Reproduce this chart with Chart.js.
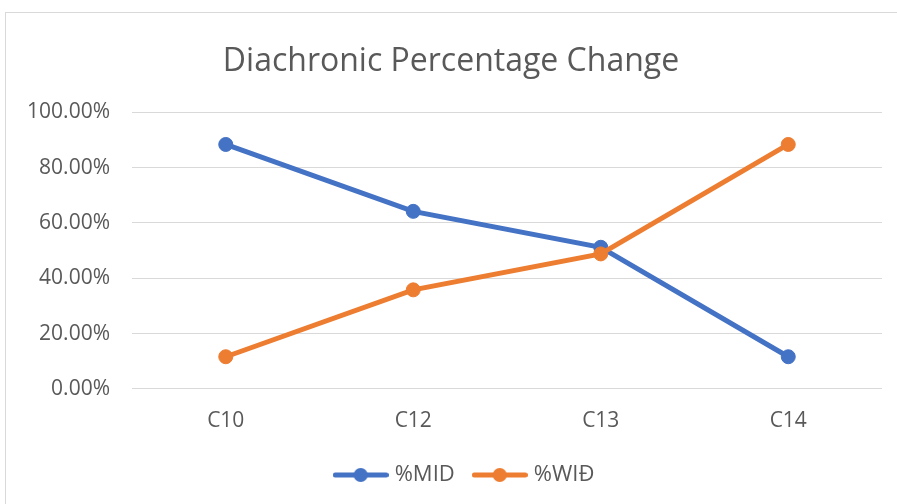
<!DOCTYPE html>
<html>
<head>
<meta charset="utf-8">
<script src="https://cdn.jsdelivr.net/npm/chart.js@4.4.1/dist/chart.umd.min.js"></script>
<style>
  html, body { margin: 0; padding: 0; background: #ffffff; }
  #wrap { position: relative; width: 897px; height: 504px; }
</style>
</head>
<body>
<div id="wrap"><canvas id="chart" width="897" height="504"></canvas></div>
<script>
// Series and labels
const categories = ['C10', 'C12', 'C13', 'C14'];
const midValues = [88.4, 64.2, 51.2, 11.6];
const widValues = [11.6, 35.8, 48.8, 88.4];
const seriesNames = ['%MID', '%WIĐ'];
const yTicks = [0, 20, 40, 60, 80, 100];

const FONT = '"Open Sans", sans-serif';
const TEXT = '#595959';
const BLUE = '#4472C4';
const ORANGE = '#ED7D31';

// Legend marker: short line with a dot in the middle
function legendMarker(color) {
  const c = document.createElement('canvas');
  c.width = 56; c.height = 16;
  const g = c.getContext('2d');
  g.strokeStyle = color;
  g.lineWidth = 5;
  g.lineCap = 'round';
  g.beginPath(); g.moveTo(2.5, 8); g.lineTo(53.5, 8); g.stroke();
  g.fillStyle = color;
  g.beginPath(); g.arc(28, 8, 7, 0, Math.PI * 2); g.fill();
  return c;
}
const markers = [legendMarker(BLUE), legendMarker(ORANGE)];

// Light frame around the chart, and small horizontal nudges of title and legend
const frame = {
  id: 'frame',
  afterLayout(chart) {
    if (chart.titleBlock) { chart.titleBlock.left += 10; chart.titleBlock.right += 10; }
    if (chart.legend) { chart.legend.left += 25; chart.legend.right += 25; }
  },
  beforeDraw(chart) {
    const ctx = chart.ctx;
    ctx.save();
    ctx.fillStyle = '#ffffff';
    ctx.fillRect(0, 0, chart.width, chart.height);
    ctx.strokeStyle = '#d9d9d9';
    ctx.lineWidth = 1;
    ctx.strokeRect(5.5, 12.5, 1000, 1000);
    ctx.restore();
  }
};

new Chart(document.getElementById('chart'), {
  type: 'line',
  data: {
    labels: categories,
    datasets: [
      {
        label: seriesNames[0],
        data: midValues,
        borderColor: BLUE,
        backgroundColor: BLUE,
        borderWidth: 5,
        pointRadius: 7,
        pointBorderWidth: 1,
        pointHoverRadius: 7,
        tension: 0,
        order: 1
      },
      {
        label: seriesNames[1],
        data: widValues,
        borderColor: ORANGE,
        backgroundColor: ORANGE,
        borderWidth: 5,
        pointRadius: 7,
        pointBorderWidth: 1,
        pointHoverRadius: 7,
        tension: 0,
        order: 0
      }
    ]
  },
  options: {
    responsive: false,
    animation: false,
    devicePixelRatio: 1,
    layout: { padding: { left: 0, right: 15, top: 0, bottom: 8 } },
    plugins: {
      title: {
        display: true,
        text: 'Diachronic Percentage Change',
        color: TEXT,
        font: { family: FONT, size: 32, weight: 'normal' },
        padding: { top: 43, bottom: 31 }
      },
      legend: {
        position: 'bottom',
        labels: {
          color: TEXT,
          font: { family: FONT, size: 22 },
          usePointStyle: true,
          pointStyleWidth: 46,
          boxHeight: 16,
          padding: 22,
          generateLabels(chart) {
            return chart.data.datasets.map((ds, i) => ({
              text: ds.label,
              fillStyle: ds.borderColor,
              strokeStyle: ds.borderColor,
              fontColor: TEXT,
              lineWidth: 0,
              pointStyle: markers[i],
              hidden: false,
              datasetIndex: i
            }));
          }
        }
      },
      tooltip: { enabled: false }
    },
    scales: {
      x: {
        offset: true,
        afterFit(scale) { scale.height -= 12; },
        grid: { display: false, drawTicks: false },
        border: { display: false },
        ticks: { color: TEXT, font: { family: FONT, size: 21 }, padding: 20 }
      },
      y: {
        min: 0,
        max: 100,
        afterBuildTicks(scale) { scale.ticks = yTicks.map(v => ({ value: v })); },
        afterFit(scale) { scale.width = 132; },
        grid: { color: '#d9d9d9', lineWidth: 1, drawTicks: false },
        border: { display: false },
        ticks: {
          color: TEXT,
          font: { family: FONT, size: 21 },
          padding: 22,
          callback: v => v.toFixed(2) + '%'
        }
      }
    }
  },
  plugins: [frame]
});
</script>
</body>
</html>
